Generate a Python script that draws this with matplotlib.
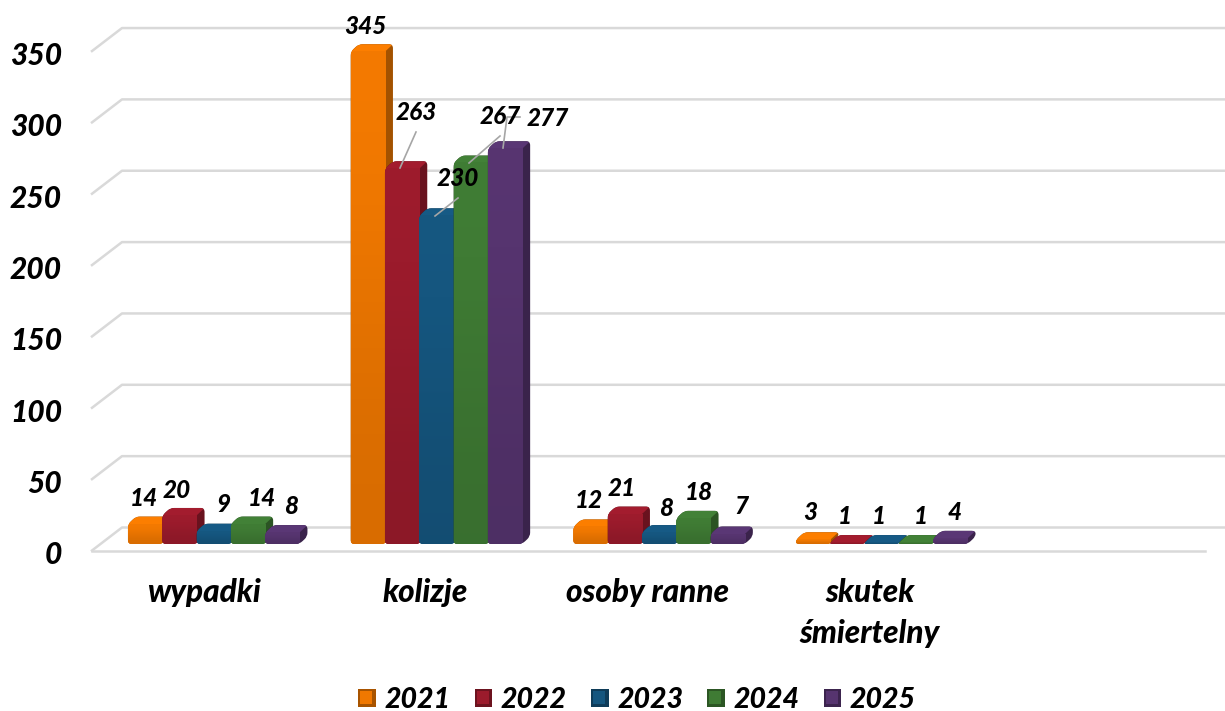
import numpy as np
import matplotlib
matplotlib.use('Agg')
import matplotlib.pyplot as plt
from matplotlib.colors import LinearSegmentedColormap, to_rgb
from matplotlib.legend_handler import HandlerBase
from matplotlib.patches import Patch, PathPatch, Polygon, Rectangle
from matplotlib.path import Path

categories = ['wypadki', 'kolizje', 'osoby ranne', 'skutek\nśmiertelny']
years = ['2021', '2022', '2023', '2024', '2025']
v2021 = [14, 345, 12, 3]
v2022 = [20, 263, 21, 1]
v2023 = [9, 230, 8, 1]
v2024 = [14, 267, 18, 1]
v2025 = [8, 277, 7, 4]
series = [v2021, v2022, v2023, v2024, v2025]
y_ticks = [0, 50, 100, 150, 200, 250, 300, 350]

colors = ['#F07800', '#9B1B2C', '#15567F', '#3F7B34', '#56346F']

# label positions in picture pixels, one row per year
label_px = [
    [(144, 498), (365, 26), (589, 500), (810, 513)],
    [(177, 490), (416, 113), (622, 489), (845, 517)],
    [(223, 505), (458, 179), (666, 508), (879, 517)],
    [(262, 498), (500, 117), (699, 492), (921, 517)],
    [(291, 506), (548, 119), (741, 506), (955, 512)],
]
leaders_px = [
    [(416, 132), (400, 168)],
    [(458, 198), (435, 216)],
    [(500, 136), (469, 163)],
    [(520, 117), (507, 117), (503, 148)],
]

W, H = 1225, 711
CAT_PX = 222.7      # px per category
BAR_PX = 34.3       # bar width in px
X0_PX = 213.7       # px of category 0 centre
Y0_PX = 544         # px of value 0 on the bar front
VAL_PX = 1.427      # px per unit value

plt.rcParams['font.family'] = ['Lato', 'DejaVu Sans']
plt.rcParams['font.weight'] = 900
plt.rcParams['font.style'] = 'italic'

fig = plt.figure(figsize=(W / 100, H / 100), dpi=100)
ax = fig.add_axes([0, 0, 1, 1])
ax.axis('off')


def px(x, y):
    return (x - X0_PX) / CAT_PX, (Y0_PX - y) / VAL_PX


def rounded(points, r=4.0):
    # closed path through data points with corners rounded by r pixels
    pts = np.array(points) * [CAT_PX, VAL_PX]
    verts, codes = [], []
    n = len(pts)
    for k in range(n):
        p = pts[k]
        a, b = pts[k - 1] - p, pts[(k + 1) % n] - p
        la, lb = np.hypot(*a), np.hypot(*b)
        start = p + a / la * min(r, la / 2)
        end = p + b / lb * min(r, lb / 2)
        verts += [start, p, end]
        codes += [Path.MOVETO if k == 0 else Path.LINETO, Path.CURVE3, Path.CURVE3]
    verts.append(verts[0])
    codes.append(Path.CLOSEPOLY)
    return Path(np.array(verts) / [CAT_PX, VAL_PX], codes)


class BevelHandler(HandlerBase):
    # legend swatch: dark square with the lit face on top of it
    def create_artists(self, legend, orig, xd, yd, w, h, fontsize, trans):
        base = np.array(to_rgb(orig.get_facecolor()))
        x0, y0 = -xd, -yd
        back = Rectangle((x0, y0), w, h, facecolor=base * 0.7, lw=0, transform=trans)
        face = Rectangle((x0 + w * 0.12, y0 + h * 0.2), w * 0.68, h * 0.68, facecolor=base, lw=0, transform=trans)
        return [back, face]


grid = '#D9D9D9'
dxg = 30 / CAT_PX
rise = 23 / VAL_PX
floor = 6.5 / VAL_PX
left = px(92, 0)[0]
right = px(1225, 0)[0]
for t in y_ticks:
    ax.plot([left, left + dxg, right], [t - floor, t - floor + rise, t - floor + rise],
            color=grid, lw=1.8, solid_joinstyle='round', zorder=1)
    ax.text(px(62, 0)[0], t - floor - 5 / VAL_PX, str(t), ha='right', va='center', fontsize=21.5, color='black')
ax.plot([left, px(1205, 0)[0]], [-floor, -floor], color=grid, lw=1.8, zorder=1)

bar_w = BAR_PX / CAT_PX
dx, dy = 8 / CAT_PX, 7.5 / VAL_PX
for i, vals in enumerate(series):
    base = np.array(to_rgb(colors[i]))
    cmap = LinearSegmentedColormap.from_list('g', [base * 0.9, np.clip(base * 1.02, 0, 1)])
    side = base * 0.68
    top = np.clip(base * 1.05, 0, 1)
    offs = (i - 2) * bar_w
    for c, v in enumerate(vals):
        x0 = c + offs - bar_w / 2
        x1 = x0 + bar_w
        z = 3 + i
        outline = PathPatch(rounded([(x0, 0), (x0, v), (x0 + dx, v + dy), (x1 + dx, v + dy),
                                     (x1 + dx, dy), (x1, 0)]),
                            facecolor=side, lw=0, zorder=z)
        ax.add_patch(outline)
        tp = ax.fill([x0, x0 + dx, x1 + dx, x1], [v, v + dy, v + dy, v], color=top, lw=0, zorder=z)[0]
        tp.set_clip_path(outline)
        rect = ax.bar(x0, v, width=bar_w, align='edge', color=colors[i], lw=0, zorder=z)[0]
        rect.set_clip_path(outline)
        im = ax.imshow(np.array([[1.0], [0.0]]), extent=[x0, x1, 0, v], aspect='auto', cmap=cmap,
                       vmin=0, vmax=1, interpolation='bicubic', zorder=z)
        im.set_clip_path(outline)

for row, vals in zip(label_px, series):
    for (lx, ly), v in zip(row, vals):
        x, y = px(lx, ly)
        ax.text(x, y, str(v), ha='center', va='center', fontsize=17.5, color='black', zorder=12)

for line in leaders_px:
    pts = np.array([px(a, b) for a, b in line])
    ax.plot(pts[:, 0], pts[:, 1], color='#A6A6A6', lw=1.2, zorder=11)

cat_centres = [204, 425, 648, 870]
for name, cx in zip(categories, cat_centres):
    x, y = px(cx, 578)
    ax.text(x, y, name, ha='center', va='top', fontsize=22.7, linespacing=1.5, color='black')

ax.set_xlim(px(0, 0)[0], px(W, 0)[0])
ax.set_ylim(px(0, H)[1], px(0, 0)[1])

handles = [Patch(facecolor=c, label=y) for c, y in zip(colors, years)]
fig.legend(handles=handles, loc='center', bbox_to_anchor=(637 / W, 1 - 700 / H), ncols=5, frameon=False,
           fontsize=20.5, handlelength=0.62, handleheight=0.62, handletextpad=0.3, columnspacing=0.85,
           borderpad=0, borderaxespad=0, handler_map={Patch: BevelHandler()})

fig.savefig('out.png', dpi=100)
